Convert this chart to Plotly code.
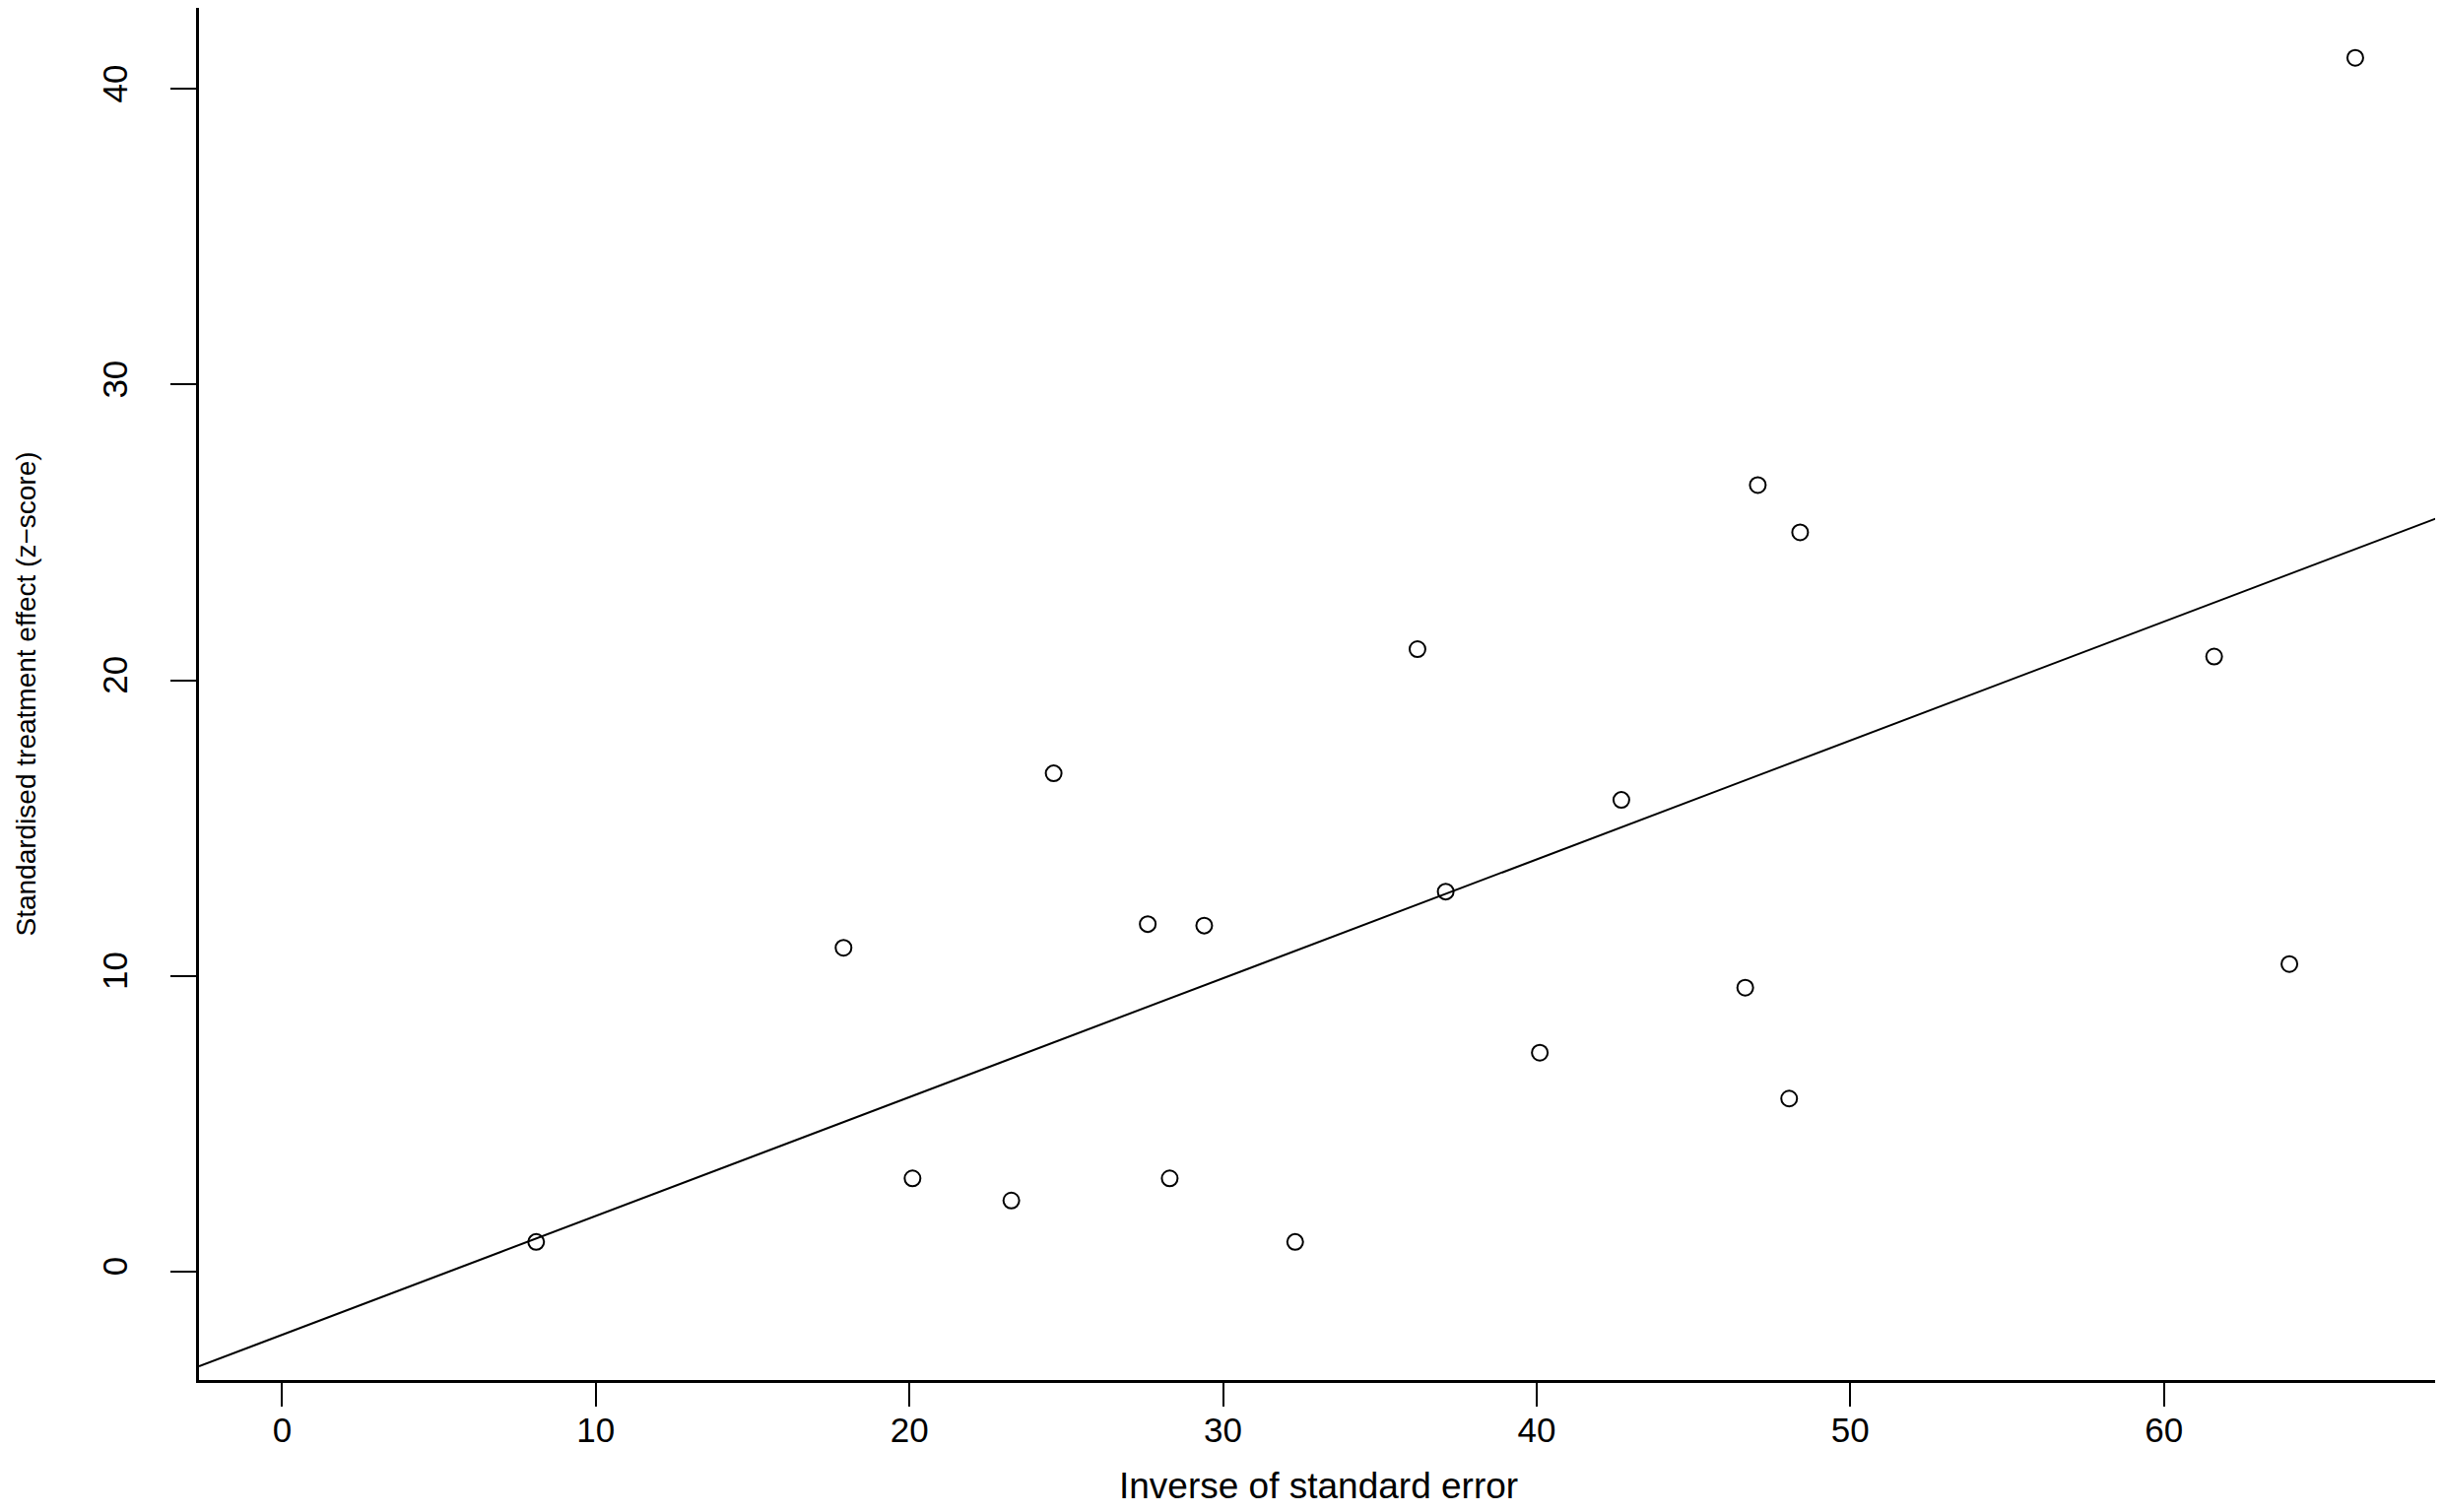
import plotly.graph_objects as go

# Data (Galbraith-type plot)
inv_se = [8.1, 17.9, 20.1, 23.25, 24.6, 27.6, 28.3, 29.4, 32.3, 36.2,
          37.1, 40.1, 42.7, 46.65, 47.05, 48.05, 48.4, 61.6, 64.0, 66.1]
z_score = [1.0, 10.95, 3.15, 2.4, 16.85, 11.75, 3.15, 11.7, 1.0, 21.05,
           12.85, 7.4, 15.95, 9.6, 26.6, 5.85, 25.0, 20.8, 10.4, 41.05]

# Fitted regression line (intercept, slope)
fit_intercept = -2.14
fit_slope = 0.402

x_range = [-2.65, 68.74]
y_range = [-3.67, 42.74]
x_ticks = [0, 10, 20, 30, 40, 50, 60]
y_ticks = [0, 10, 20, 30, 40]

# page body has an 8px default margin, so the figure is sized to fit the window
W, H = 2472, 1527
ml, mr, mt, mb = 194, 5, 0, 134
font_family = "Liberation Sans, Arial, sans-serif"

fig = go.Figure()

line_x = x_range
line_y = [fit_intercept + fit_slope * v for v in line_x]
fig.add_trace(go.Scatter(
    x=line_x, y=line_y, mode="lines",
    line=dict(color="black", width=2),
    showlegend=False, hoverinfo="skip", cliponaxis=True,
))

fig.add_trace(go.Scatter(
    x=inv_se, y=z_score, mode="markers",
    marker=dict(symbol="circle-open", size=16, color="black",
                line=dict(color="black", width=2)),
    showlegend=False,
))

plot_h = H - mt - mb
fig.update_layout(
    width=W, height=H,
    margin=dict(l=ml, r=mr, t=mt, b=mb, autoexpand=False),
    paper_bgcolor="white", plot_bgcolor="white",
    font=dict(family=font_family, color="black"),
    xaxis=dict(
        range=x_range, tickvals=x_ticks, ticktext=[str(t) for t in x_ticks],
        showgrid=False, zeroline=False,
        showline=True, linecolor="black", linewidth=3, mirror=True,
        ticks="outside", ticklen=24, tickwidth=2, tickcolor="black",
        tickfont=dict(size=35, family=font_family, color="black"),
        ticklabelstandoff=-6, automargin=False,
    ),
    yaxis=dict(
        range=y_range, tickvals=y_ticks, ticktext=[str(t) for t in y_ticks],
        showgrid=False, zeroline=False,
        showline=True, linecolor="black", linewidth=3, mirror=True,
        ticks="outside", ticklen=26, tickwidth=2, tickcolor="black",
        tickangle=-90,
        tickfont=dict(size=35, family=font_family, color="black"),
        ticklabelstandoff=30, automargin=False,
    ),
    annotations=[
        dict(text="Inverse of standard error", xref="paper", yref="paper",
             x=0.5, y=-(1500 - (H - mb)) / plot_h, xanchor="center", yanchor="middle",
             showarrow=False, font=dict(size=37, family=font_family, color="black")),
        dict(text="Standardised treatment effect (z\u2212score)", xref="paper", yref="paper",
             x=-(ml - 18) / (W - ml - mr), y=0.5, xanchor="center", yanchor="middle",
             textangle=-90, showarrow=False,
             font=dict(size=28, family=font_family, color="black")),
    ],
)

fig.write_html("out.html")
